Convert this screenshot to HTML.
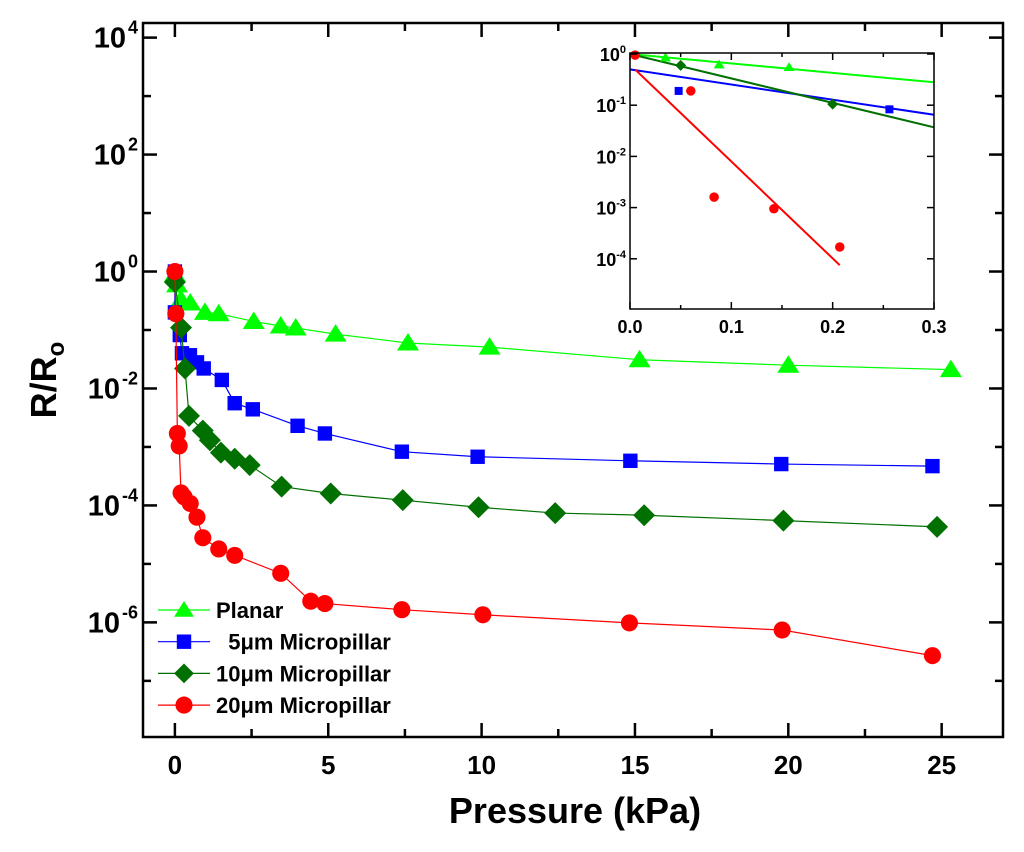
<!DOCTYPE html>
<html><head><meta charset="utf-8"><style>
body{margin:0;background:#fff}
svg{display:block;font-family:"Liberation Sans",Arial,sans-serif}
</style></head><body>
<svg id="c" width="1024" height="852" viewBox="0 0 1024 852"></svg>
<script>
const planarX=[0,0.07,0.2,0.5,0.98,1.43,2.57,3.45,3.94,5.24,7.6,10.26,15.15,20.0,25.3];
const planarY=[0.9,0.59,0.33,0.29,0.2,0.19,0.14,0.117,0.108,0.085,0.06,0.051,0.031,0.025,0.021];
const p5X=[0,0,0.16,0.23,0.49,0.72,0.94,1.53,1.95,2.54,4.0,4.89,7.4,9.87,14.85,19.77,24.7];
const p5Y=[1,0.2,0.082,0.04,0.037,0.028,0.022,0.014,0.0056,0.0044,0.0023,0.0017,0.00083,0.00068,0.00058,0.00051,0.00047];
const p10X=[0,0.2,0.33,0.46,0.91,1.14,1.5,1.95,2.44,3.48,5.08,7.43,9.9,12.4,15.3,19.84,24.85];
const p10Y=[0.66,0.11,0.022,0.0034,0.0019,0.0013,0.0008,0.00063,0.00049,0.00021,0.00016,0.000123,0.000093,0.000074,0.000068,0.000055,0.000043];
const p20X=[0,0.03,0.08,0.14,0.2,0.3,0.5,0.72,0.91,1.43,1.95,3.45,4.43,4.89,7.4,10.04,14.82,19.8,24.7];
const p20Y=[1,0.19,0.0017,0.00104,0.000164,0.00014,0.000108,6.3e-5,2.8e-5,1.8e-5,1.4e-5,6.9e-6,2.3e-6,2.1e-6,1.65e-6,1.35e-6,9.8e-7,7.4e-7,2.7e-7];
const xTicks=[0,5,10,15,20,25];
const yTickExp=[-6,-4,-2,0,2,4];
// inset
const inPlanarX=[0.035,0.088,0.157], inPlanarY=[0.85,0.62,0.55];
const in5X=[0.048,0.256], in5Y=[0.19,0.083];
const in10X=[0.05,0.2], in10Y=[0.6,0.105];
const in20X=[0.005,0.06,0.083,0.142,0.207], in20Y=[0.95,0.19,0.0016,0.00095,0.00017];
const fitPlanarX=[0,0.3], fitPlanarY=[1,0.28];
const fit5X=[0,0.3], fit5Y=[0.5,0.065];
const fit10X=[0,0.3], fit10Y=[1,0.037];
const fit20X=[0.005,0.207], fit20Y=[0.5,7.5e-5];
const inXTicks=[0,0.1,0.2,0.3];
const inYExp=[0,-1,-2,-3,-4];

const NS='http://www.w3.org/2000/svg';
const svg=document.getElementById('c');
function el(t,a,p){const e=document.createElementNS(NS,t);for(const k in a)e.setAttribute(k,a[k]);(p||svg).appendChild(e);return e;}
const L=143,R=1003,T=23,B=737;
const X0=-1.04,X1=27,YL=-7.96,YH=4.25;
const sx=v=>L+(v-X0)/(X1-X0)*(R-L);
const sy=v=>B-(Math.log10(v)-YL)/(YH-YL)*(B-T);
const sye=e=>B-(e-YL)/(YH-YL)*(B-T);

function marker(type,x,y,color,s,g){
  let m;
  if(type==='tri') m=el('polygon',{points:`${x},${y-s} ${x-s*1.1},${y+s*0.75} ${x+s*1.1},${y+s*0.75}`,fill:color},g);
  else if(type==='sq') m=el('rect',{x:x-s*0.8,y:y-s*0.8,width:s*1.6,height:s*1.6,fill:color},g);
  else if(type==='dia') m=el('polygon',{points:`${x},${y-s*1.1} ${x+s*1.1},${y} ${x},${y+s*1.1} ${x-s*1.1},${y}`,fill:color},g);
  else m=el('circle',{cx:x,cy:y,r:s*0.95,fill:color},g);
  return m;
}
function series(xs,ys,color,type,name,fx,fy,s,line){
  const g=el('g',{});
  
  
  if(line){el('polyline',{points:xs.map((x,i)=>fx(x)+','+fy(ys[i])).join(' '),fill:'none',stroke:color,'stroke-width':1.2},g);}
  xs.forEach((x,i)=>{const m=marker(type,fx(x),fy(ys[i]),color,s,g);
    
    });
}
series(planarX,planarY,'#00ff00','tri','series-planar',sx,sy,10,true);
series(p5X,p5Y,'#0000ff','sq','series-5um',sx,sy,9,true);
series(p10X,p10Y,'#007000','dia','series-10um',sx,sy,10,true);
series(p20X,p20Y,'#ff0000','circ','series-20um',sx,sy,9,true);

const fr=el('rect',{x:L,y:T,width:R-L,height:B-T,fill:'none',stroke:'#000','stroke-width':2.5});


for(let e=-7;e<=4;e++){const y=sye(e);const len=(e%2===0)?14:8;
  el('line',{x1:L,y1:y,x2:L+len,y2:y,stroke:'#000','stroke-width':2.5});
  el('line',{x1:R,y1:y,x2:R-len,y2:y,stroke:'#000','stroke-width':2.5});}
yTickExp.forEach(e=>{const t=el('text',{x:L-5,y:sye(e)+10,'text-anchor':'end','font-size':29,'font-weight':'bold'});
  
  
  t.innerHTML='10<tspan dx="2" dy="-14" font-size="18">'+e+'</tspan>';});
for(let v=0;v<=25;v+=2.5){const x=sx(v);const len=(v%5===0)?14:8;
  el('line',{x1:x,y1:B,x2:x,y2:B-len,stroke:'#000','stroke-width':2.5});
  el('line',{x1:x,y1:T,x2:x,y2:T+len,stroke:'#000','stroke-width':2.5});}
xTicks.forEach(v=>{const t=el('text',{x:sx(v),y:B+37,'text-anchor':'middle','font-size':26,'font-weight':'bold'});
  
  
  t.textContent=v;});
const xt=el('text',{x:575,y:823,'text-anchor':'middle','font-size':36,'font-weight':'bold'});


xt.textContent='Pressure (kPa)';
const yt=el('text',{x:0,y:0,'text-anchor':'middle','font-size':36,'font-weight':'bold',transform:'translate(56,380) rotate(-90)'});


yt.innerHTML='R/R<tspan dy="8" font-size="24">o</tspan>';

const leg=[['Planar','#00ff00','tri'],['  5μm Micropillar','#0000ff','sq'],['10μm Micropillar','#007000','dia'],['20μm Micropillar','#ff0000','circ']];
leg.forEach((d,i)=>{const y=610+i*31.7;const g=el('g',{});
  
  
  el('line',{x1:158,y1:y,x2:210,y2:y,stroke:d[1],'stroke-width':1.2},g);
  marker(d[2],184,y,d[1],9,g);
  const t=el('text',{x:216,y:y+8,'font-size':22,'font-weight':'bold'},g);
  t.setAttribute('style','white-space:pre');
  t.textContent=d[0];});

const iL=630,iR=934,iT=53,iB=309;
const ix=v=>iL+v/0.3*(iR-iL);
function iys(v){return 54-Math.log10(v)*51.2;}
function iyE(e){return 54-e*51.2;}
[[fitPlanarX,fitPlanarY,'#00ff00','fit-planar'],[fit5X,fit5Y,'#0000ff','fit-5um'],[fit10X,fit10Y,'#007000','fit-10um'],[fit20X,fit20Y,'#ff0000','fit-20um']].forEach(f=>{
  const l=el('line',{x1:ix(f[0][0]),y1:iys(f[1][0]),x2:ix(f[0][1]),y2:iys(f[1][1]),stroke:f[2],'stroke-width':2});
  
  });
series(inPlanarX,inPlanarY,'#00ff00','tri','inset-planar',ix,iys,5,false);
series(in5X,in5Y,'#0000ff','sq','inset-5um',ix,iys,5,false);
series(in10X,in10Y,'#007000','dia','inset-10um',ix,iys,5,false);
series(in20X,in20Y,'#ff0000','circ','inset-20um',ix,iys,5,false);
const ifr=el('rect',{x:iL,y:iT,width:iR-iL,height:iB-iT,fill:'none',stroke:'#000','stroke-width':1.5});


inYExp.forEach(e=>{const y=iyE(e);
  el('line',{x1:iL,y1:y,x2:iL+7,y2:y,stroke:'#000','stroke-width':1.5});
  el('line',{x1:iR,y1:y,x2:iR-7,y2:y,stroke:'#000','stroke-width':1.5});
  const t=el('text',{x:iL-4,y:y+7,'text-anchor':'end','font-size':18,'font-weight':'bold'});
  
  
  t.innerHTML='10<tspan dy="-8" font-size="11">'+e+'</tspan>';});
for(let v=0;v<=0.3001;v+=0.05){const x=ix(v);const len=(Math.round(v*100)%10===0)?7:4;
  el('line',{x1:x,y1:iB,x2:x,y2:iB-len,stroke:'#000','stroke-width':1.5});
  el('line',{x1:x,y1:iT,x2:x,y2:iT+len,stroke:'#000','stroke-width':1.5});}
inXTicks.forEach(v=>{const t=el('text',{x:ix(v),y:iB+24,'text-anchor':'middle','font-size':18,'font-weight':'bold'});
  
  
  t.textContent=v.toFixed(1);});
</script>
</body></html>
